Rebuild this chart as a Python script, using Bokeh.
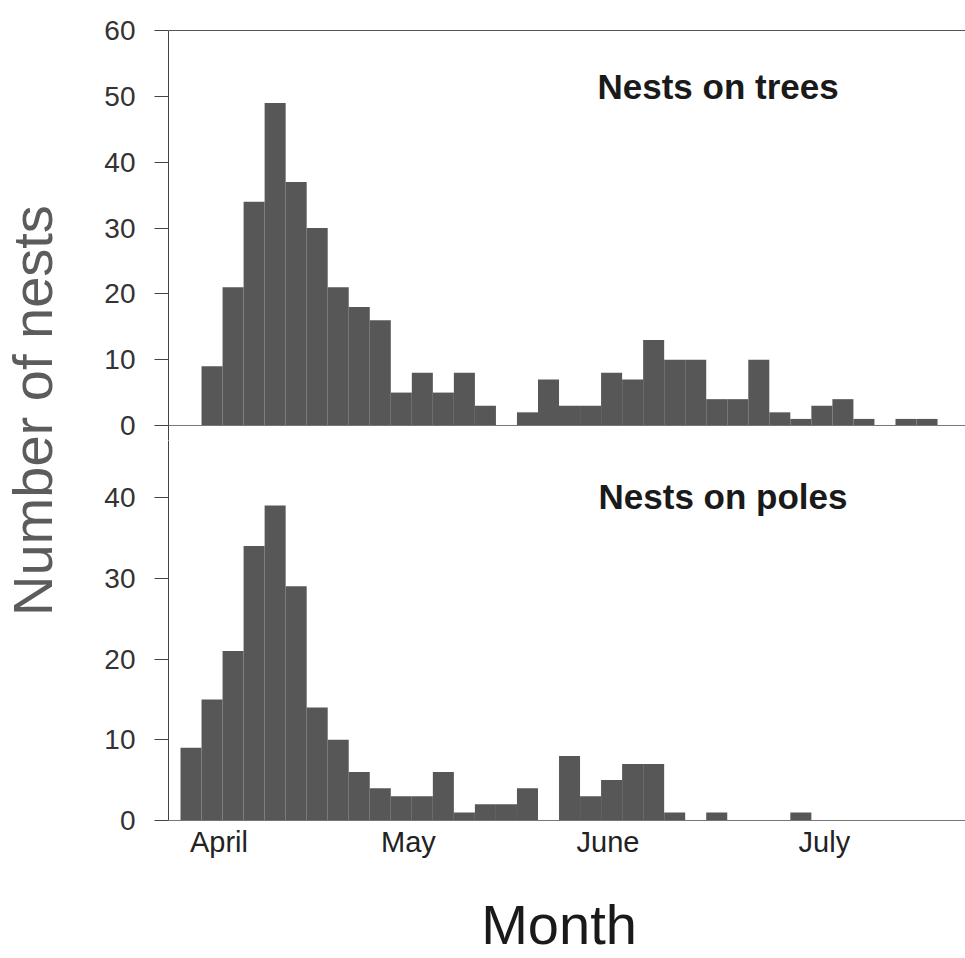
from math import pi
from bokeh.plotting import figure
from bokeh.layouts import row, column
from bokeh.models import FixedTicker, Span, Label, ColumnDataSource, Range1d
from bokeh.embed import file_html
from bokeh.resources import INLINE

# ---- data (counts per 3-day bin, bin index 0 = first bin in April) ----
trees = [0, 9, 21, 34, 49, 37, 30, 21, 18, 16, 5, 8, 5, 8, 3, 0, 2, 7, 3, 3,
         8, 7, 13, 10, 10, 4, 4, 10, 2, 1, 3, 4, 1, 0, 1, 1, 0]
poles = [9, 15, 21, 34, 39, 29, 14, 10, 6, 4, 3, 3, 6, 1, 2, 2, 4, 0, 8, 3,
         5, 7, 7, 1, 0, 1, 0, 0, 0, 1, 0, 0, 0, 0, 0, 0, 0]
month_names = ["April", "May", "June", "July"]
month_pos = [1.83, 10.84, 20.33, 30.62]
top_ticks = [0, 10, 20, 30, 40, 50, 60]
bottom_ticks = [0, 10, 20, 30, 40]

BAR = "#575757"
FONT = "Liberation Sans"
X_RANGE = (-0.571, 37.33)


def src(counts):
    lefts = list(range(len(counts)))
    return ColumnDataSource(dict(left=lefts, right=[l + 1 for l in lefts],
                                 top=counts, bottom=[0] * len(counts)))


def style_y(p, ticks, bounds):
    ax = p.yaxis[0]
    ax.ticker = FixedTicker(ticks=ticks)
    ax.bounds = bounds
    ax.major_tick_out = 14
    ax.major_tick_in = 0
    ax.minor_tick_out = 0
    ax.minor_tick_in = 0
    ax.major_label_standoff = 19
    ax.major_label_text_font = FONT
    ax.major_label_text_font_size = "28px"
    ax.major_label_text_color = "#333333"
    ax.axis_line_color = "#444444"
    ax.major_tick_line_color = "#444444"


def blank(width, height):
    f = figure(width=width, height=height, output_backend="svg", toolbar_location=None,
               x_range=Range1d(0, 1), y_range=Range1d(0, 1),
               x_axis_location=None, y_axis_location=None,
               min_border=0, min_border_left=0, min_border_right=0,
               min_border_top=0, min_border_bottom=0)
    f.outline_line_color = None
    f.grid.visible = False
    return f


# ---- top panel: nests on trees ----
top = figure(width=887, height=440, output_backend="svg", toolbar_location=None,
             x_range=Range1d(*X_RANGE), y_range=Range1d(-2.279, 60.61),
             x_axis_location=None, min_border_left=90, min_border_right=0,
             min_border_top=26, min_border_bottom=0)
top.outline_line_color = None
top.grid.visible = False
top.quad(left="left", right="right", top="top", bottom="bottom", source=src(trees),
         fill_color=BAR, line_color=None)
style_y(top, top_ticks, (-3, 60))
top.add_layout(Span(location=60, dimension="width", line_color="#555555", line_width=1.2))
top.add_layout(Span(location=0, dimension="width", line_color="#777777", line_width=1))
top.add_layout(Label(x=19.83, y=51.42, text="Nests on trees", text_font=FONT,
                     text_font_size="35px", text_font_style="bold",
                     text_color="#1a1a1a", text_baseline="middle"))

# ---- bottom panel: nests on poles ----
bot = figure(width=887, height=440, output_backend="svg", toolbar_location=None,
             x_range=top.x_range, y_range=Range1d(-0.248, 47.06),
             min_border_left=90, min_border_right=0, min_border_top=0,
             min_border_bottom=58)
bot.outline_line_color = None
bot.grid.visible = False
bot.quad(left="left", right="right", top="top", bottom="bottom", source=src(poles),
         fill_color=BAR, line_color=None)
style_y(bot, bottom_ticks, (0, 49))
bot.add_layout(Span(location=0, dimension="width", line_color="#777777", line_width=1))
bot.add_layout(Label(x=19.88, y=40.13, text="Nests on poles", text_font=FONT,
                     text_font_size="35px", text_font_style="bold",
                     text_color="#1a1a1a", text_baseline="middle"))

xa = bot.xaxis[0]
xa.ticker = FixedTicker(ticks=month_pos)
xa.major_label_overrides = {p: n for p, n in zip(month_pos, month_names)}
xa.major_tick_out = 0
xa.major_tick_in = 0
xa.minor_tick_out = 0
xa.minor_tick_in = 0
xa.axis_line_color = None
xa.major_label_standoff = 3
xa.major_label_text_font = FONT
xa.major_label_text_font_size = "29px"
xa.major_label_text_color = "#222222"

# ---- shared y-axis title ----
lab = blank(78, 880)
lab.add_layout(Label(x=0.41, y=0.534, text="Number of nests", angle=pi / 2,
                     text_font=FONT, text_font_size="56px",
                     text_color="#5c5c5c", text_align="center",
                     text_baseline="middle"))

# ---- x-axis title ----
month = blank(965, 78)
month.add_layout(Label(x=0.5788, y=0.436, text="Month", text_font=FONT,
                       text_font_size="56px", text_color="#1a1a1a",
                       text_align="center", text_baseline="middle"))

layout = column(row(lab, column(top, bot, spacing=0), spacing=0), month, spacing=0)
open("out.html", "w").write(file_html(layout, INLINE))
